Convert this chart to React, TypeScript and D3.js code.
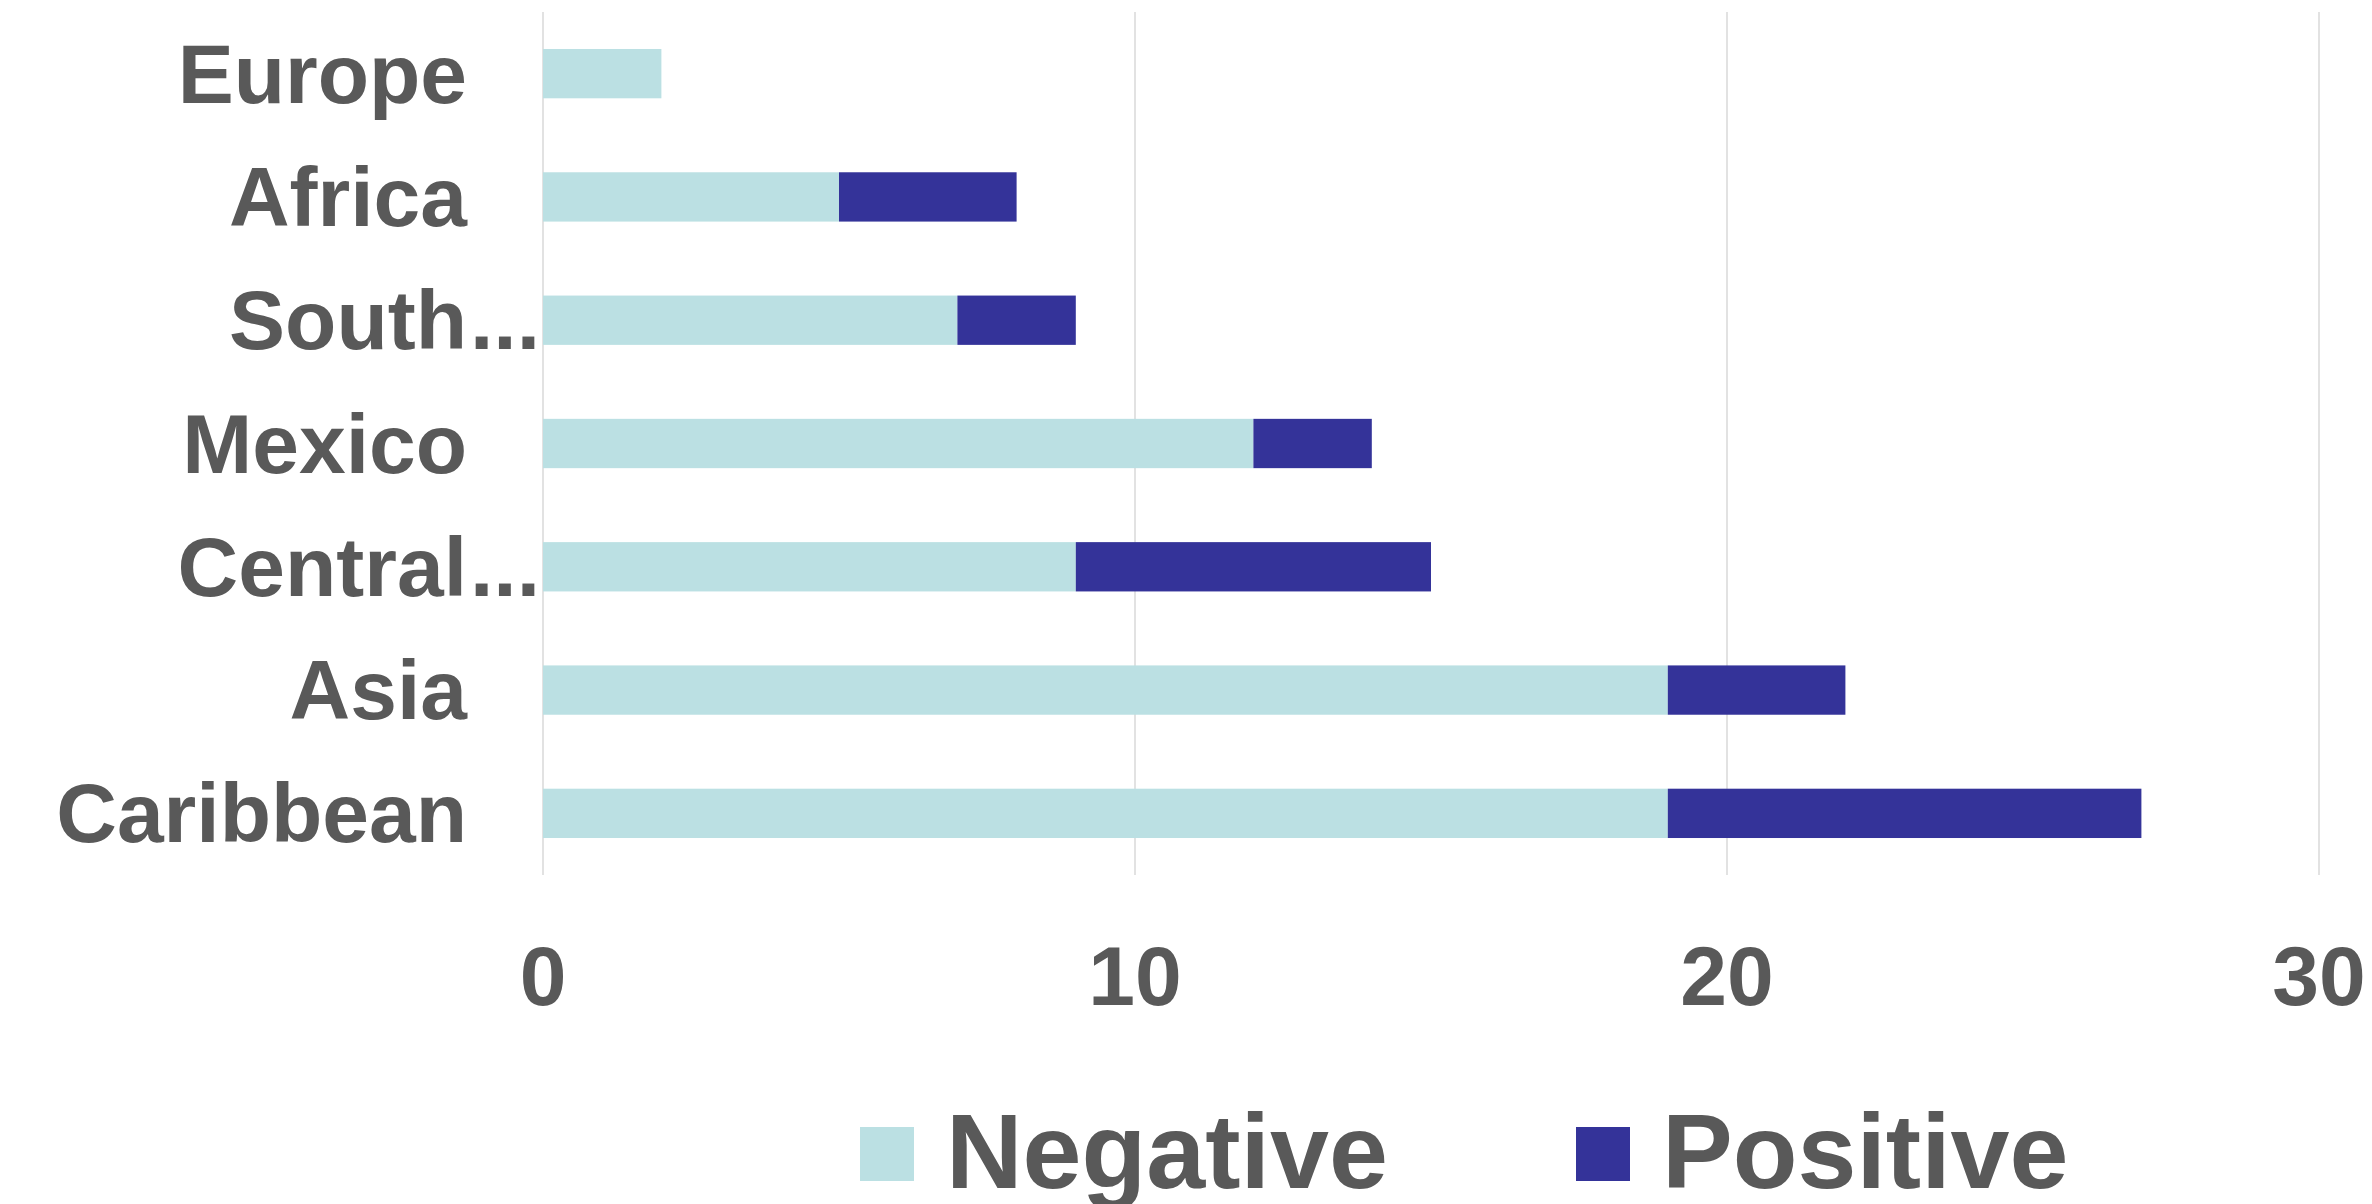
import React, { useEffect, useRef } from 'react';
import * as d3 from 'd3';

// categories top to bottom, as on the chart
const regions = ['Europe', 'Africa', 'South...', 'Mexico', 'Central...', 'Asia', 'Caribbean'];
const negative = [2, 5, 7, 12, 9, 19, 19];
const positive = [0, 3, 2, 2, 6, 3, 8];
const xTicks = [0, 10, 20, 30];
const seriesNames = ['Negative', 'Positive'];
const seriesColors = ['#bbe0e3', '#343399'];

const W = 2372;
const H = 1204;
const FONT = '"Liberation Sans", Arial, sans-serif';
const TEXT = '#595959';

export default function App() {
  const ref = useRef<SVGSVGElement>(null);

  useEffect(() => {
    document.body.style.margin = '0';
    const svg = d3.select(ref.current);
    svg.selectAll('*').remove();

    const plot = { left: 543, right: 2319, top: 12, bottom: 875 };
    const labelRight = 467;

    const x = d3.scaleLinear().domain([0, 30]).range([plot.left, plot.right]);
    const y = d3
      .scaleBand()
      .domain(regions)
      .range([plot.top, plot.bottom])
      .paddingInner(0.6)
      .paddingOuter(0.3);

    // gridlines
    svg
      .append('g')
      .selectAll('line')
      .data(xTicks)
      .join('line')
      .attr('x1', (d) => x(d))
      .attr('x2', (d) => x(d))
      .attr('y1', plot.top)
      .attr('y2', plot.bottom)
      .attr('stroke', '#d9d9d9')
      .attr('stroke-width', 1.5);

    // stacked bars
    const rows = regions.map((r, i) => ({ region: r, Negative: negative[i], Positive: positive[i] }));
    const stacked = d3.stack().keys(seriesNames)(rows as any);
    svg
      .append('g')
      .selectAll('g')
      .data(stacked)
      .join('g')
      .attr('fill', (_, i) => seriesColors[i])
      .selectAll('rect')
      .data((s) => s)
      .join('rect')
      .attr('x', (d) => x(d[0]))
      .attr('width', (d) => x(d[1]) - x(d[0]))
      .attr('y', (d: any) => y(d.data.region)!)
      .attr('height', y.bandwidth());

    // category labels (ellipsis hangs past the label edge, like Excel)
    const lab = svg
      .append('g')
      .attr('font-family', FONT)
      .attr('font-weight', 'bold')
      .attr('font-size', 84)
      .attr('fill', TEXT);
    regions.forEach((r) => {
      const cy = y(r)! + y.bandwidth() / 2 + 29;
      const trunc = r.endsWith('...');
      const base = trunc ? r.slice(0, -3) : r;
      lab.append('text').attr('x', labelRight).attr('y', cy).attr('text-anchor', 'end').text(base);
      if (trunc) {
        lab.append('text').attr('x', labelRight + 3).attr('y', cy).text('...');
      }
    });

    // x tick labels
    svg
      .append('g')
      .attr('font-family', FONT)
      .attr('font-weight', 'bold')
      .attr('font-size', 84)
      .attr('fill', TEXT)
      .selectAll('text')
      .data(xTicks)
      .join('text')
      .attr('x', (d) => x(d))
      .attr('y', 1005)
      .attr('text-anchor', 'middle')
      .text((d) => String(d));

    // legend
    const legendX = [860, 1576];
    const leg = svg
      .append('g')
      .attr('font-family', FONT)
      .attr('font-weight', 'bold')
      .attr('font-size', 106)
      .attr('fill', TEXT);
    seriesNames.forEach((name, i) => {
      leg
        .append('rect')
        .attr('x', legendX[i])
        .attr('y', 1127)
        .attr('width', 54)
        .attr('height', 54)
        .attr('fill', seriesColors[i]);
      leg
        .append('text')
        .attr('x', legendX[i] + 86)
        .attr('y', 1188)
        .text(name);
    });
  }, []);

  return <svg ref={ref} width={W} height={H} style={{ display: 'block', background: '#fff' }} />;
}
